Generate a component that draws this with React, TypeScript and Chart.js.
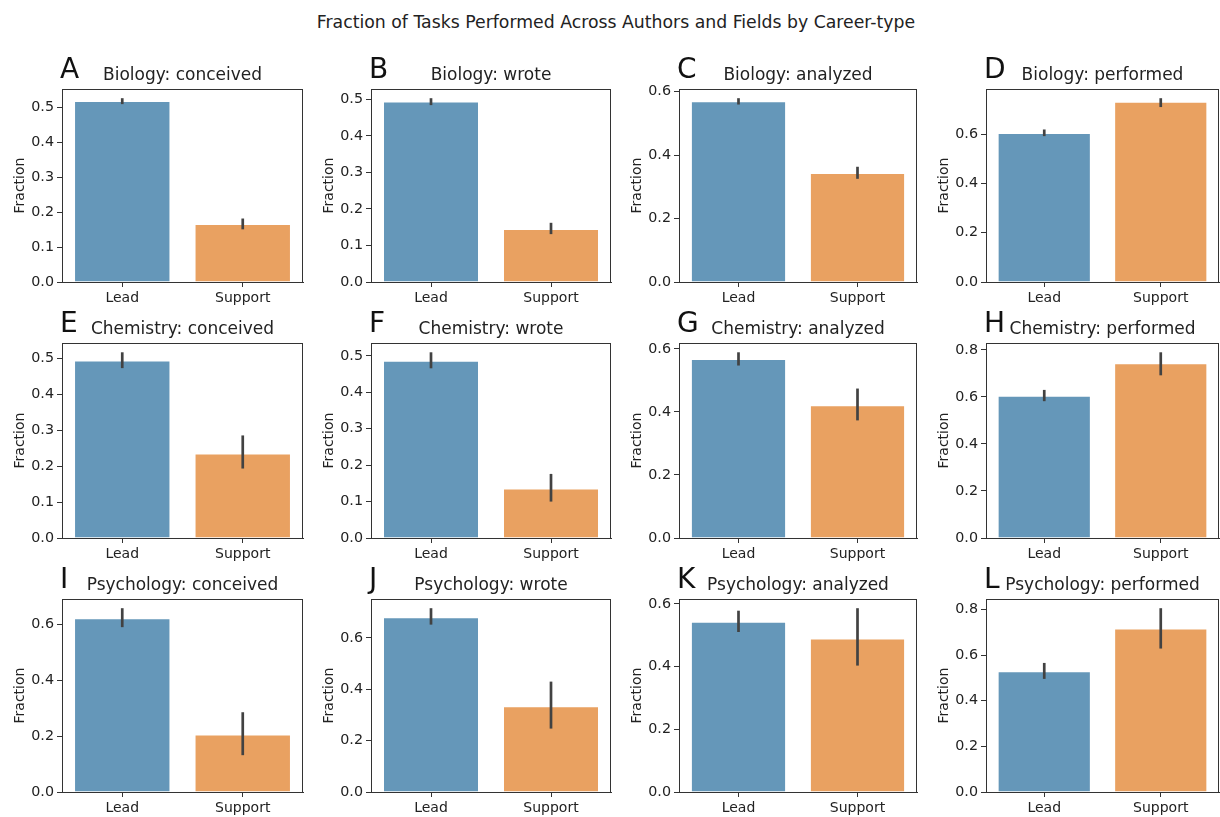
import React, { useEffect, useRef } from "react";
import { Chart, registerables } from "chart.js";

Chart.register(...registerables);

// ---------- data ----------
const categories = ["Lead", "Support"];
const panelLetters = ["A", "B", "C", "D", "E", "F", "G", "H", "I", "J", "K", "L"];
const fields = ["Biology", "Chemistry", "Psychology"];
const tasks = ["conceived", "wrote", "analyzed", "performed"];

const leadValues = [0.519, 0.494, 0.569, 0.605, 0.493, 0.487, 0.568, 0.605, 0.623, 0.681, 0.543, 0.529];
const leadLow = [0.51, 0.484, 0.559, 0.592, 0.472, 0.466, 0.547, 0.582, 0.591, 0.652, 0.51, 0.496];
const leadHigh = [0.527, 0.503, 0.579, 0.619, 0.516, 0.51, 0.589, 0.63, 0.659, 0.716, 0.578, 0.566];

const supportValues = [0.166, 0.145, 0.343, 0.732, 0.235, 0.136, 0.421, 0.743, 0.206, 0.334, 0.489, 0.717];
const supportLow = [0.151, 0.131, 0.325, 0.71, 0.193, 0.1, 0.373, 0.692, 0.132, 0.247, 0.403, 0.629];
const supportHigh = [0.182, 0.162, 0.363, 0.746, 0.285, 0.176, 0.474, 0.79, 0.286, 0.43, 0.586, 0.806];

const tickSteps = [0.1, 0.1, 0.2, 0.2, 0.1, 0.1, 0.2, 0.2, 0.2, 0.2, 0.2, 0.2];

const mainTitle = "Fraction of Tasks Performed Across Authors and Fields by Career-type";

// ---------- layout / style ----------
const COL_LEFT = [62, 371, 679, 986];
const COL_W = [241, 240, 238, 233];
const ROW_TOP = [89, 343, 599];
const ROW_H = [193, 195, 193];
const Y_AXIS_W = 62;
const TOP_PAD = 50;
const X_AXIS_H = 30;
const RIGHT_PAD = 4;

const FONT = "'DejaVu Sans', 'Liberation Sans', sans-serif";
const TEXT = "#222222";
const SPINE = "#333333";
const BLUE = "#6597b9";
const ORANGE = "#e9a161";
const ERR = "#424242";

function Panel({ idx }: { idx: number }) {
  const ref = useRef<HTMLCanvasElement | null>(null);
  const r = Math.floor(idx / 4);
  const c = idx % 4;
  const width = Y_AXIS_W + COL_W[c] + RIGHT_PAD;
  const height = TOP_PAD + ROW_H[r] + X_AXIS_H;

  useEffect(() => {
    if (!ref.current) return;
    const lows = [leadLow[idx], supportLow[idx]];
    const highs = [leadHigh[idx], supportHigh[idx]];
    const yMax = Math.max(...highs) * 1.05;
    const step = tickSteps[idx];
    const tickVals: number[] = [];
    for (let k = 0; k * step <= yMax + 1e-9; k++) tickVals.push(Math.round(k * step * 10) / 10);
    const letter = panelLetters[idx];
    const title = `${fields[r]}: ${tasks[c]}`;

    const panelPlugin = {
      id: "panelDecor",
      afterDatasetsDraw(chart: any) {
        const { ctx, scales } = chart;
        const xs = scales.x;
        const ys = scales.y;
        ctx.save();
        ctx.strokeStyle = ERR;
        ctx.lineWidth = 2.7;
        ctx.lineCap = "butt";
        for (let i = 0; i < categories.length; i++) {
          const x = xs.getPixelForValue(i);
          ctx.beginPath();
          ctx.moveTo(x, ys.getPixelForValue(lows[i]));
          ctx.lineTo(x, ys.getPixelForValue(highs[i]));
          ctx.stroke();
        }
        ctx.restore();
      },
      afterDraw(chart: any) {
        const { ctx, chartArea } = chart;
        const { left, right, top, bottom } = chartArea;
        ctx.save();
        ctx.strokeStyle = SPINE;
        ctx.lineWidth = 1;
        ctx.beginPath();
        const t = Math.round(top) + 0.5;
        const rr = Math.round(right) - 0.5;
        ctx.moveTo(Math.round(left), t);
        ctx.lineTo(rr + 0.5, t);
        ctx.moveTo(rr, t);
        ctx.lineTo(rr, Math.round(bottom));
        ctx.stroke();

        ctx.fillStyle = "#111";
        ctx.textBaseline = "alphabetic";
        ctx.textAlign = "left";
        ctx.font = `28px ${FONT}`;
        ctx.fillText(letter, left - 2, top - 11);

        ctx.fillStyle = TEXT;
        ctx.textAlign = "center";
        ctx.font = `17px ${FONT}`;
        ctx.fillText(title, (left + right) / 2, top - 9);
        ctx.restore();
      },
    };

    const chart = new Chart(ref.current, {
      type: "bar",
      data: {
        labels: categories,
        datasets: [
          {
            data: [leadValues[idx], supportValues[idx]],
            backgroundColor: [BLUE, ORANGE],
            borderColor: ["rgba(255,255,255,0.3)", "rgba(255,255,255,0.3)"],
            borderWidth: 1,
            barPercentage: 0.8,
            categoryPercentage: 1,
          },
        ],
      },
      options: {
        responsive: false,
        animation: false,
        devicePixelRatio: 1,
        layout: { padding: { top: TOP_PAD, right: RIGHT_PAD, left: 0, bottom: 0 } },
        plugins: {
          legend: { display: false },
          title: { display: false },
          tooltip: { enabled: false },
        },
        scales: {
          x: {
            type: "category",
            offset: true,
            grid: {
              display: true,
              drawOnChartArea: false,
              drawTicks: true,
              tickLength: 5,
              color: SPINE,
              offset: false,
            },
            border: { display: true, color: SPINE, width: 1 },
            ticks: { font: { family: FONT, size: 14 }, color: TEXT, padding: 3, maxRotation: 0 },
            afterFit: (s: any) => {
              s.height = X_AXIS_H;
            },
          },
          y: {
            min: 0,
            max: yMax,
            grid: {
              display: true,
              drawOnChartArea: false,
              drawTicks: true,
              tickLength: 5,
              color: SPINE,
            },
            border: { display: true, color: SPINE, width: 1 },
            ticks: {
              font: { family: FONT, size: 14.3 },
              color: TEXT,
              padding: 3,
              callback: (v: any) => Number(v).toFixed(1),
            },
            afterBuildTicks: (s: any) => {
              s.ticks = tickVals.map((v) => ({ value: v }));
            },
            afterFit: (s: any) => {
              s.width = Y_AXIS_W;
            },
            title: {
              display: true,
              text: "Fraction",
              font: { family: FONT, size: 14 },
              color: TEXT,
              padding: { top: 12, bottom: 0 },
            },
          },
        },
      },
      plugins: [panelPlugin],
    } as any);
    return () => chart.destroy();
  }, [idx]);

  return (
    <canvas
      ref={ref}
      width={width}
      height={height}
      style={{
        position: "absolute",
        left: COL_LEFT[c] - Y_AXIS_W,
        top: ROW_TOP[r] - TOP_PAD,
        width,
        height,
      }}
    />
  );
}

export default function App() {
  return (
    <div
      style={{
        position: "absolute",
        left: 0,
        top: 0,
        width: 1220,
        height: 817,
        overflow: "hidden",
        background: "#ffffff",
      }}
    >
      <div
        style={{
          position: "absolute",
          left: 6,
          top: 12,
          width: 1220,
          textAlign: "center",
          fontFamily: FONT,
          fontSize: 17.3,
          lineHeight: "20px",
          color: TEXT,
          whiteSpace: "nowrap",
        }}
      >
        {mainTitle}
      </div>
      {panelLetters.map((_, i) => (
        <Panel key={i} idx={i} />
      ))}
    </div>
  );
}
